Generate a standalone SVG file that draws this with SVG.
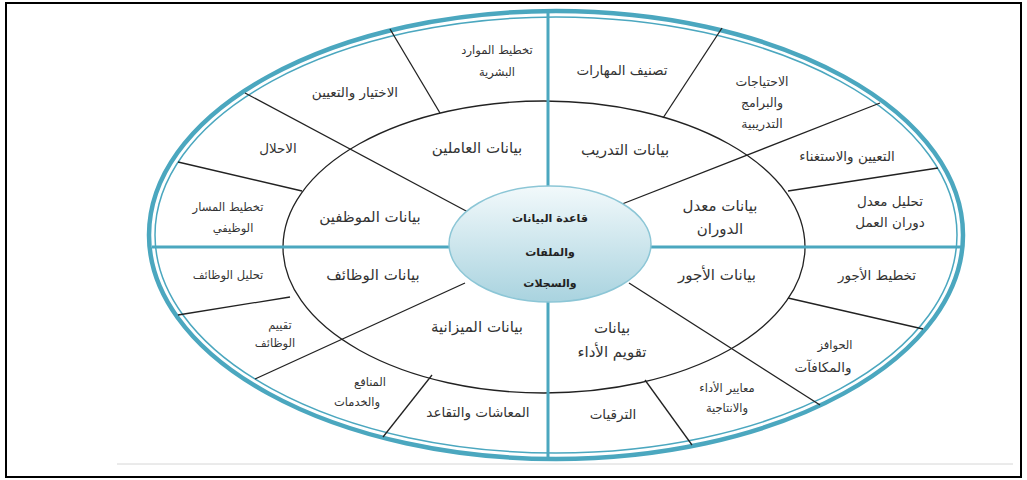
<svg xmlns="http://www.w3.org/2000/svg" width="1027" height="480" viewBox="0 0 1027 480">
<defs>
<linearGradient id="cg" x1="0" y1="0" x2="0" y2="1">
<stop offset="0" stop-color="#f2f9fb"/>
<stop offset="1" stop-color="#a9d3df"/>
</linearGradient>
<style>
.frame{fill:#fff;stroke:#000;stroke-width:2}
.ring{fill:none;stroke:#4ba7bf}
.spoke{stroke:#4ba7bf;stroke-width:3;fill:none}
.div{stroke:#222;stroke-width:1.3;fill:none}
.mid{fill:none;stroke:#222;stroke-width:1.3}
text{font-family:"DejaVu Sans","Noto Sans",sans-serif;fill:#333;text-anchor:middle}
.in{font-size:15px}
.out{font-size:13.5px}
.sm{font-size:11.5px}
.md{font-size:12.5px}
.c{font-size:11px;font-weight:bold;fill:#222}
</style>
</defs>
<rect class="frame" x="6" y="3" width="1015" height="474"/>
<line x1="117" y1="464" x2="1013" y2="464" stroke="#d6d6d6" stroke-width="1"/>

<g id="rings">
<ellipse class="ring" cx="556" cy="235" rx="407" ry="224" stroke-width="4.5"/>
<ellipse class="ring" cx="556" cy="235" rx="401" ry="218" stroke-width="1.5"/>
<ellipse class="mid" cx="544" cy="247" rx="261" ry="146"/>
</g>

<g id="connectors">
<line class="spoke" x1="548" y1="12" x2="548" y2="458"/>
<line class="spoke" x1="152" y1="247" x2="961" y2="247"/>
<line class="div" x1="390" y1="29" x2="440" y2="113"/>
<line class="div" x1="245" y1="93" x2="468" y2="212"/>
<line class="div" x1="178" y1="162" x2="302" y2="191"/>
<line class="div" x1="722" y1="28" x2="663" y2="118"/>
<line class="div" x1="880" y1="103" x2="617" y2="206"/>
<line class="div" x1="938" y1="168" x2="788" y2="191"/>
<line class="div" x1="178" y1="315" x2="290" y2="297"/>
<line class="div" x1="255" y1="379" x2="465" y2="283"/>
<line class="div" x1="383" y1="437" x2="432" y2="375"/>
<line class="div" x1="788" y1="298" x2="923" y2="329"/>
<line class="div" x1="629" y1="283" x2="820" y2="405"/>
<line class="div" x1="645" y1="380" x2="692" y2="445"/>
</g>

<g id="center">
<ellipse cx="550" cy="244" rx="101" ry="58" fill="url(#cg)" stroke="#8cc6d6" stroke-width="1.5"/>
<text class="c" x="550" y="222">قاعدة البيانات</text>
<text class="c" x="550" y="256">والملفات</text>
<text class="c" x="550" y="287">والسجلات</text>
</g>

<g id="n-employees">
<text class="in" x="477" y="153">بيانات العاملين</text>
<text class="sm" x="497" y="54">تخطيط الموارد</text>
<text class="sm" x="497" y="76">البشرية</text>
<text class="out" x="355" y="97">الاختيار والتعيين</text>
</g>
<g id="n-staff">
<text class="in" x="370" y="222">بيانات الموظفين</text>
<text class="out" x="278" y="153">الاحلال</text>
<text class="sm" x="228" y="211">تخطيط المسار</text>
<text class="sm" x="233" y="232">الوظيفي</text>
</g>
<g id="n-training">
<text class="in" x="625" y="155">بيانات التدريب</text>
<text class="out" x="622" y="75">تصنيف المهارات</text>
<text class="md" x="762" y="86">الاحتياجات</text>
<text class="md" x="762" y="107">والبرامج</text>
<text class="md" x="762" y="128">التدريبية</text>
</g>
<g id="n-turnover">
<text class="in" x="720" y="211">بيانات معدل</text>
<text class="in" x="720" y="234">الدوران</text>
<text class="out" x="847" y="161">التعيين والاستغناء</text>
<text class="out" x="890" y="206">تحليل معدل</text>
<text class="out" x="890" y="227">دوران العمل</text>
</g>
<g id="n-jobs">
<text class="in" x="373" y="280">بيانات الوظائف</text>
<text class="sm" x="228" y="279">تحليل الوظائف</text>
<text class="sm" x="280" y="329">تقييم</text>
<text class="sm" x="275" y="347">الوظائف</text>
</g>
<g id="n-budget">
<text class="in" x="477" y="332">بيانات الميزانية</text>
<text class="sm" x="370" y="386">المنافع</text>
<text class="sm" x="357" y="406">والخدمات</text>
<text class="out" x="478" y="417">المعاشات والتقاعد</text>
</g>
<g id="n-wages">
<text class="in" x="717" y="280">بيانات الأجور</text>
<text class="out" x="877" y="280">تخطيط الأجور</text>
<text class="sm" x="835" y="349">الحوافز</text>
<text class="out" x="823" y="372">والمكافآت</text>
</g>
<g id="n-performance">
<text class="in" x="612" y="333">بيانات</text>
<text class="in" x="612" y="357">تقويم الأداء</text>
<text class="sm" x="727" y="392">معايير الأداء</text>
<text class="sm" x="727" y="412">والانتاجية</text>
<text class="out" x="613" y="419">الترقيات</text>
</g>
</svg>
